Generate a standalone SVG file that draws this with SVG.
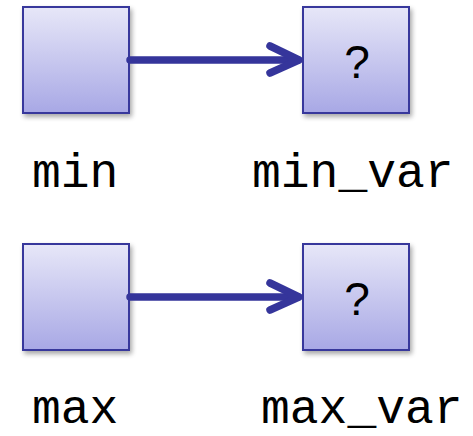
<svg xmlns="http://www.w3.org/2000/svg" width="473" height="436" viewBox="0 0 473 436">
  <defs>
    <linearGradient id="boxFill" x1="0" y1="0" x2="0" y2="1">
      <stop offset="0" stop-color="#e7e7f8"/>
      <stop offset="1" stop-color="#a8a8e5"/>
    </linearGradient>
    <filter id="shadow" x="-20%" y="-20%" width="150%" height="150%">
      <feGaussianBlur in="SourceAlpha" stdDeviation="2.5"/>
      <feOffset dx="2" dy="3" result="b"/>
      <feComponentTransfer><feFuncA type="linear" slope="0.35"/></feComponentTransfer>
      <feMerge><feMergeNode/><feMergeNode in="SourceGraphic"/></feMerge>
    </filter>
  </defs>
  <style>
    .box { fill: url(#boxFill); stroke: #38389c; stroke-width: 2; filter: url(#shadow); }
    .q { font-family: "Liberation Sans", Arial, sans-serif; font-size: 46px; fill: #000; text-anchor: middle; }
    .lbl { font-family: "Liberation Mono", "Courier New", monospace; font-size: 48px; fill: #000; }
    .conn { fill: none; stroke: #35359b; stroke-width: 7.5; stroke-linecap: round; stroke-linejoin: round; }
  </style>
  <rect width="473" height="436" fill="#ffffff"/>

  <g id="min">
    <rect class="box" x="23" y="7" width="106" height="106"/>
    <text class="lbl" x="32" y="187">min</text>
  </g>
  <g id="min_var">
    <rect class="box" x="303" y="7" width="106" height="106"/>
    <text class="q" x="357" y="78">?</text>
    <text class="lbl" x="252" y="187">min_var</text>
  </g>
  <g id="max">
    <rect class="box" x="23" y="244" width="106" height="106"/>
    <text class="lbl" x="32" y="423">max</text>
  </g>
  <g id="max_var">
    <rect class="box" x="303" y="244" width="106" height="106"/>
    <text class="q" x="357" y="315">?</text>
    <text class="lbl" x="261" y="423">max_var</text>
  </g>

  <g id="connectors">
    <line class="conn" x1="130" y1="60" x2="298" y2="60" stroke-linecap="butt"/>
    <polyline class="conn" points="270,46 299,60 270,73"/>
    <line class="conn" x1="130" y1="297" x2="298" y2="297" stroke-linecap="butt"/>
    <polyline class="conn" points="270,283 299,297 270,310"/>
  </g>
</svg>
